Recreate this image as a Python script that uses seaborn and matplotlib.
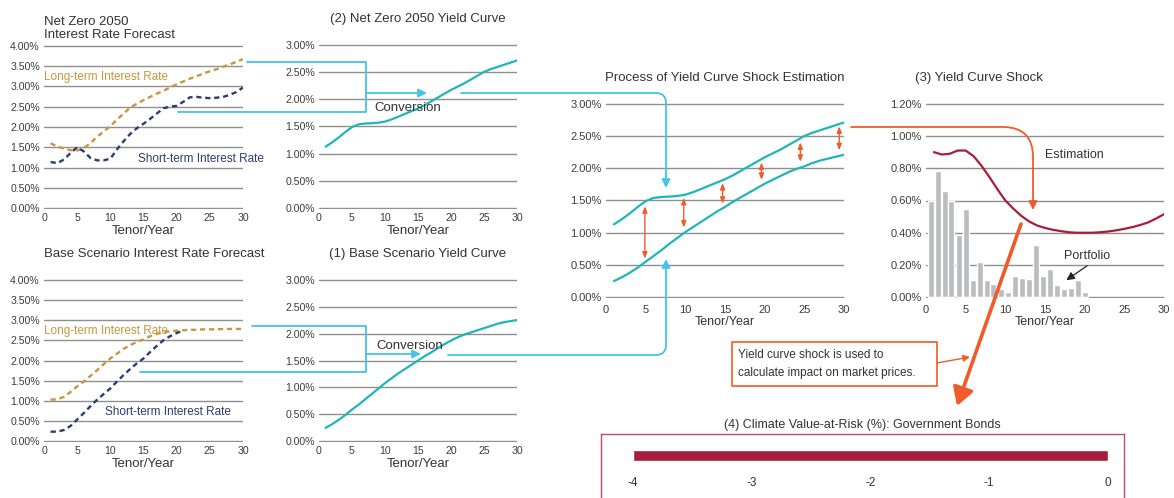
import numpy as np
import pandas as pd
import matplotlib.pyplot as plt
import seaborn as sns
from matplotlib.patches import FancyArrowPatch, Rectangle
from matplotlib.lines import Line2D

sns.set_theme(style="white")
plt.rcParams['font.family'] = ['Liberation Sans', 'DejaVu Sans']
NARROW = ['Liberation Sans Narrow', 'Liberation Sans', 'DejaVu Sans']

# ---- data ----
tenor = list(range(1, 31))

nz_long = [1.60, 1.52, 1.47, 1.43, 1.42, 1.48, 1.60, 1.76, 1.89, 2.02, 2.18, 2.33, 2.48, 2.57, 2.66,
           2.74, 2.82, 2.89, 2.97, 3.05, 3.12, 3.19, 3.25, 3.31, 3.37, 3.42, 3.48, 3.54, 3.60, 3.67]
nz_short = [1.14, 1.11, 1.20, 1.36, 1.50, 1.40, 1.24, 1.18, 1.18, 1.22, 1.45, 1.65, 1.83, 1.97, 2.08,
            2.20, 2.33, 2.46, 2.50, 2.52, 2.62, 2.73, 2.74, 2.72, 2.71, 2.72, 2.74, 2.79, 2.86, 2.97]

base_long = [1.03, 1.04, 1.10, 1.22, 1.36, 1.48, 1.62, 1.76, 1.91, 2.05, 2.17, 2.29, 2.38, 2.46, 2.52,
             2.60, 2.66, 2.70, 2.72, 2.74, 2.75, 2.76, 2.76, 2.77, 2.77, 2.77, 2.78, 2.78, 2.78, 2.78]
base_short_tenor = list(range(1, 22))
base_short = [0.24, 0.24, 0.28, 0.38, 0.54, 0.70, 0.87, 1.03, 1.17, 1.31, 1.48, 1.64, 1.79, 1.93, 2.05,
              2.21, 2.36, 2.50, 2.60, 2.68, 2.74]

nz_yield = [1.13, 1.21, 1.30, 1.40, 1.49, 1.54, 1.555, 1.56, 1.57, 1.59, 1.63, 1.68, 1.73, 1.78, 1.83,
            1.89, 1.96, 2.03, 2.10, 2.17, 2.23, 2.29, 2.36, 2.43, 2.50, 2.55, 2.59, 2.63, 2.67, 2.71]
base_yield = [0.25, 0.32, 0.40, 0.49, 0.59, 0.68, 0.78, 0.88, 0.98, 1.08, 1.17, 1.26, 1.34, 1.42, 1.50,
              1.58, 1.65, 1.73, 1.80, 1.87, 1.93, 1.98, 2.02, 2.06, 2.10, 2.14, 2.18, 2.21, 2.23, 2.25]
proc_lower = [0.25, 0.31, 0.38, 0.46, 0.55, 0.64, 0.73, 0.83, 0.92, 1.01, 1.09, 1.17, 1.25, 1.33, 1.40,
              1.48, 1.55, 1.62, 1.69, 1.76, 1.82, 1.88, 1.94, 1.99, 2.03, 2.08, 2.12, 2.15, 2.18, 2.21]

shock_x = [4.9, 9.8, 14.7, 19.6, 24.5, 29.4]
shock_lo = [0.60, 1.08, 1.45, 1.82, 2.10, 2.28]
shock_hi = [1.41, 1.54, 1.77, 2.09, 2.40, 2.65]

estimation = [0.90, 0.885, 0.89, 0.91, 0.91, 0.875, 0.815, 0.745, 0.67, 0.60, 0.55, 0.505, 0.47, 0.445, 0.43,
              0.418, 0.41, 0.403, 0.40, 0.40, 0.40, 0.403, 0.408, 0.415, 0.424, 0.435, 0.448, 0.464, 0.488, 0.515]
port_x = [0.6, 1.5, 2.4, 3.2, 4.1, 5.0, 5.9, 6.8, 7.7, 8.5, 9.4, 10.3, 11.2, 12.1, 13.0, 13.85,
          14.7, 15.6, 16.5, 17.4, 18.3, 19.1, 20.0]
portfolio = [0.60, 0.78, 0.66, 0.60, 0.385, 0.548, 0.106, 0.219, 0.106, 0.082, 0.051, 0.033,
             0.131, 0.119, 0.112, 0.321, 0.131, 0.174, 0.076, 0.051, 0.057, 0.106, 0.033]

cvar = -4.0
cvar_ticks = [-4, -3, -2, -1, 0]

x_ticks = [0, 5, 10, 15, 20, 25, 30]
rate_yticks = [0, 0.5, 1.0, 1.5, 2.0, 2.5, 3.0, 3.5, 4.0]
yc_yticks = [0, 0.5, 1.0, 1.5, 2.0, 2.5, 3.0]
shock_yticks = [0, 0.2, 0.4, 0.6, 0.8, 1.0, 1.2]

GOLD = '#c6973f'
NAVY = '#2b3d70'
TEAL = '#1fb6b8'
CRIMSON = '#a61e3c'
BARGRAY = '#bcbdc0'
BLUE = '#45c3ec'
ORANGE = '#f15a29'
GRID = '#8f8f8f'
TXT = '#333333'

W, H = 1174, 498
fig = plt.figure(figsize=(W / 100, H / 100), dpi=100)


def px_ax(l, t, r, b):
    return fig.add_axes([l / W, 1 - b / H, (r - l) / W, (b - t) / H])


def fx(x, y):
    return (x / W, 1 - y / H)


def style(ax, yticks, fs, fam, xpad=3):
    top = yticks[-1]
    ax.set_xlim(0, 30)
    ax.set_ylim(-top * 0.004, top * 1.004)
    ax.set_xticks(x_ticks)
    ax.set_xticklabels([str(t) for t in x_ticks], fontsize=fs, family=fam, color='#3c3c3c')
    ax.set_yticks(yticks)
    ax.set_yticklabels([f"{v:.2f}%" for v in yticks], fontsize=fs, family=fam, color='#3c3c3c')
    ax.tick_params(axis='y', length=0, pad=3)
    ax.tick_params(axis='x', length=0, pad=xpad)
    for s in ax.spines.values():
        s.set_visible(False)
    ax.grid(axis='y', color=GRID, lw=1.0)
    ax.grid(axis='x', visible=False)
    ax.set_facecolor('none')


def tenor_label(ax, fs, pad):
    ax.set_xlabel('Tenor/Year', fontsize=fs, color=TXT, labelpad=pad)


dash = (0, (2.2, 1.6))

# ---- Net Zero 2050 interest rate forecast ----
ax_a = px_ax(44, 45, 243, 209)
style(ax_a, rate_yticks, 7.6, NARROW)
sns.lineplot(x=tenor, y=nz_long, ax=ax_a, color=GOLD, lw=1.7, linestyle=dash)
sns.lineplot(x=tenor, y=nz_short, ax=ax_a, color=NAVY, lw=1.7, linestyle=dash)
ax_a.set_title('Net Zero 2050\nInterest Rate Forecast', loc='left', fontsize=9.5, color=TXT,
               pad=5, linespacing=1.15)
ax_a.text(0, 3.22, 'Long-term Interest Rate', color=GOLD, fontsize=8.5, family=NARROW, va='center')
ax_a.text(14.2, 1.22, 'Short-term Interest Rate', color=NAVY, fontsize=8.5, family=NARROW, va='center')
tenor_label(ax_a, 9.5, 1)

# ---- Base scenario interest rate forecast ----
ax_b = px_ax(44, 279, 243, 442)
style(ax_b, rate_yticks, 7.6, NARROW)
sns.lineplot(x=tenor, y=base_long, ax=ax_b, color=GOLD, lw=1.7, linestyle=dash)
sns.lineplot(x=base_short_tenor, y=base_short, ax=ax_b, color=NAVY, lw=1.7, linestyle=dash)
ax_b.set_title('Base Scenario Interest Rate Forecast', loc='left', fontsize=9.5, color=TXT, pad=16)
ax_b.text(0, 2.72, 'Long-term Interest Rate', color=GOLD, fontsize=8.5, family=NARROW, va='center')
ax_b.text(9.2, 0.72, 'Short-term Interest Rate', color=NAVY, fontsize=8.5, family=NARROW, va='center')
tenor_label(ax_b, 9.5, 1)

# ---- (2) Net Zero 2050 yield curve ----
ax_c = px_ax(319, 44, 517, 209)
style(ax_c, yc_yticks, 7.6, NARROW)
sns.lineplot(x=tenor, y=nz_yield, ax=ax_c, color=TEAL, lw=1.6)
ax_c.set_title('(2) Net Zero 2050 Yield Curve', fontsize=9.5, color=TXT, pad=16)
tenor_label(ax_c, 9.5, 1)

# ---- (1) Base scenario yield curve ----
ax_d = px_ax(319, 279, 517, 442)
style(ax_d, yc_yticks, 7.6, NARROW)
sns.lineplot(x=tenor, y=base_yield, ax=ax_d, color=TEAL, lw=1.6)
ax_d.set_title('(1) Base Scenario Yield Curve', fontsize=9.5, color=TXT, pad=16)
tenor_label(ax_d, 9.5, 1)

# ---- Process of yield curve shock estimation ----
ax_e = px_ax(606, 103, 844, 298)
style(ax_e, yc_yticks, 8, ['Liberation Sans'], xpad=5)
sns.lineplot(x=tenor, y=nz_yield, ax=ax_e, color=TEAL, lw=1.6)
sns.lineplot(x=tenor, y=proc_lower, ax=ax_e, color=TEAL, lw=1.6)
for sx, lo, hi in zip(shock_x, shock_lo, shock_hi):
    ax_e.annotate('', xy=(sx, hi), xytext=(sx, lo),
                  arrowprops=dict(arrowstyle='<|-|>,head_length=0.3,head_width=0.12',
                                  color=ORANGE, lw=1.0, shrinkA=0, shrinkB=0))
ax_e.set_title('Process of Yield Curve Shock Estimation', fontsize=9.5, color=TXT, pad=16)
tenor_label(ax_e, 9, 1)

# ---- (3) Yield curve shock ----
ax_f = px_ax(926, 103, 1164, 298)
style(ax_f, shock_yticks, 8, ['Liberation Sans'], xpad=5)
ax_f.bar(port_x, portfolio, width=0.75, color=BARGRAY, zorder=2)
sns.lineplot(x=tenor, y=estimation, ax=ax_f, color=CRIMSON, lw=1.6, zorder=3)
ax_f.text(15.0, 0.88, 'Estimation', fontsize=9, color=TXT, va='center')
ax_f.text(17.4, 0.256, 'Portfolio', fontsize=9, color=TXT, va='center')
ax_f.annotate('', xy=(17.4, 0.096), xytext=(20.6, 0.205),
              arrowprops=dict(arrowstyle='-|>,head_length=0.4,head_width=0.2', color='#222222', lw=0.9))
ax_f.text(-1.4, 1.36, '(3) Yield Curve Shock', fontsize=9.5, color=TXT, va='center')
tenor_label(ax_f, 9, 1)

# ---- (4) Climate Value-at-Risk ----
ax_g = px_ax(601, 434, 1124, 505)
ax_g.set_xlim(-4.269, 0.135)
ax_g.set_ylim(0, 1)
ax_g.barh([0.6975], [cvar], height=0.155, color=CRIMSON)
for t in cvar_ticks:
    ax_g.text(t, 0.31, str(t), ha='center', va='center', fontsize=8.5, color=TXT)
ax_g.set_xticks([])
ax_g.set_yticks([])
for s in ax_g.spines.values():
    s.set_color('#c24a63')
    s.set_linewidth(1.0)
ax_g.set_title('(4) Climate Value-at-Risk (%): Government Bonds', fontsize=9, color=TXT, pad=4)

# ---- connectors ----
def poly(pts, color, lw):
    xs = [p[0] / W for p in pts]
    ys = [1 - p[1] / H for p in pts]
    fig.add_artist(Line2D(xs, ys, color=color, lw=lw, transform=fig.transFigure))


def arrow(a, b, color, lw, style='-|>,head_length=0.5,head_width=0.25', conn='arc3', ms=10):
    fig.add_artist(FancyArrowPatch(fx(*a), fx(*b), transform=fig.transFigure, arrowstyle=style,
                                   connectionstyle=conn, color=color, lw=lw, mutation_scale=ms,
                                   shrinkA=0, shrinkB=0))


poly([(247, 62), (366, 62), (366, 112), (178, 112)], BLUE, 1.3)
arrow((366, 93), (427, 93), BLUE, 1.3)
fig.text(374 / W, 1 - 108 / H, 'Conversion', fontsize=9.5, color=TXT, va='center')
arrow((461, 93), (666, 188), BLUE, 1.3, conn='angle,angleA=0,angleB=90,rad=10')

poly([(252, 326), (366, 326), (366, 372), (140, 372)], BLUE, 1.3)
arrow((366, 354), (421, 354), BLUE, 1.3)
fig.text(376 / W, 1 - 346 / H, 'Conversion', fontsize=9.5, color=TXT, va='center')
arrow((448, 355), (666, 259), BLUE, 1.3, conn='angle,angleA=0,angleB=-90,rad=10')

arrow((851, 127), (1033, 210), ORANGE, 1.3, conn='angle,angleA=0,angleB=90,rad=30')
arrow((1021, 224), (957, 406), ORANGE, 2.6, style='-|>,head_length=0.6,head_width=0.35', ms=18)

fig.add_artist(Rectangle(fx(732, 386), 205 / W, 44 / H, transform=fig.transFigure,
                         facecolor='white', edgecolor=ORANGE, lw=1.2))
fig.text(738 / W, 1 - 364 / H, 'Yield curve shock is used to\ncalculate impact on market prices.',
         fontsize=8.5, color=TXT, va='center', linespacing=1.6)
arrow((937, 363), (970, 357), ORANGE, 1.0, style='-|>,head_length=0.4,head_width=0.2')

fig.savefig('out.png', dpi=100, facecolor='white')
